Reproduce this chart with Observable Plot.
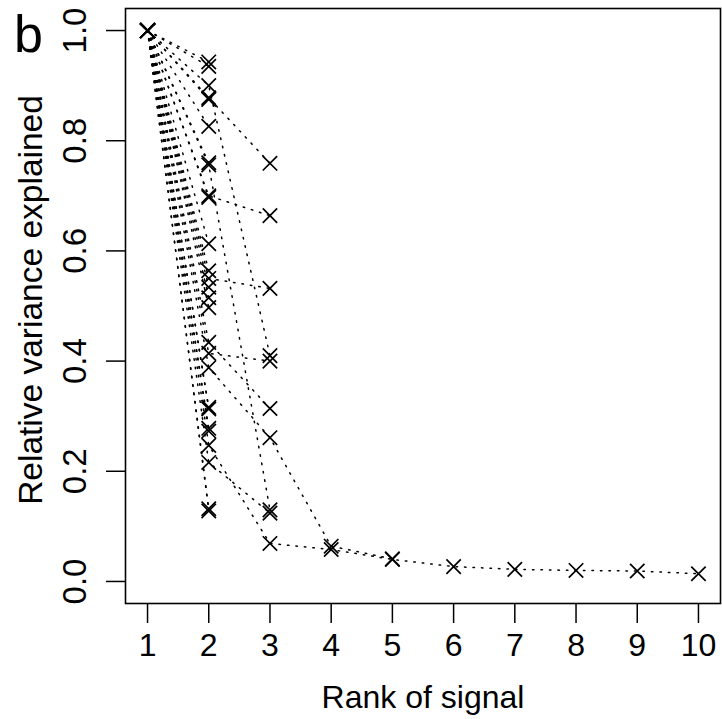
<!DOCTYPE html>
<html>
<head>
<meta charset="utf-8">
<script src="https://cdn.jsdelivr.net/npm/d3@7"></script>
<script src="https://cdn.jsdelivr.net/npm/@observablehq/plot@0.6"></script>
<style>
  html, body { margin: 0; padding: 0; background: white; }
  #chart { width: 722px; height: 719px; }
</style>
</head>
<body>
<div id="chart"></div>
<script>
// Tick labels
const xTicks = [1, 2, 3, 4, 5, 6, 7, 8, 9, 10];
const yTicks = [0, 0.2, 0.4, 0.6, 0.8, 1.0];

// Series that stop at rank 2 (value at rank 1 is 1.0, value at rank 2 listed)
const rank2OnlyValues = [0.943, 0.935, 0.875, 0.826, 0.760, 0.697, 0.613, 0.564,
  0.534, 0.515, 0.497, 0.316, 0.313, 0.278, 0.273, 0.132, 0.128];

// Series that continue beyond rank 2 (values at rank 1, 2, 3, ...)
const seriesA = [1.0, 0.900, 0.410];
const seriesB = [1.0, 0.878, 0.759];
const seriesC = [1.0, 0.756, 0.130];
const seriesD = [1.0, 0.700, 0.664];
const seriesE = [1.0, 0.550, 0.532];
const seriesF = [1.0, 0.434, 0.314];
const seriesG = [1.0, 0.414, 0.400];
const seriesH = [1.0, 0.388, 0.261, 0.064, 0.041];
const seriesI = [1.0, 0.247, 0.069, 0.058, 0.040, 0.027, 0.022, 0.020, 0.019, 0.014];
const seriesJ = [1.0, 0.216, 0.124];

const allSeries = [
  ...rank2OnlyValues.map(v => [1.0, v]),
  seriesA, seriesB, seriesC, seriesD, seriesE, seriesF, seriesG, seriesH, seriesI, seriesJ
];

const points = [];
allSeries.forEach((vals, s) => {
  vals.forEach((v, i) => points.push({series: s, rank: xTicks[i], value: v}));
});

const font = "'Liberation Sans', Arial, Helvetica, sans-serif";

const chart = Plot.plot({
  width: 722,
  height: 719,
  marginLeft: 125,
  marginRight: 2,
  marginTop: 8,
  marginBottom: 116,
  x: {domain: [0.64, 10.36]},
  y: {domain: [-0.04, 1.04]},
  style: {fontFamily: font, fontSize: "32px", color: "black", background: "white", overflow: "visible"},
  marks: [
    Plot.axisX({ticks: xTicks, tickSize: 20, tickPadding: 10, strokeWidth: 1.5, label: null, fontSize: 32, tickFormat: d => String(d)}),
    Plot.axisY({ticks: yTicks, tickSize: 19, tickPadding: 21, tickRotate: -90, strokeWidth: 1.5, label: null, fontSize: 33, tickFormat: d3.format(".1f")}),
    Plot.line(points, {x: "rank", y: "value", z: "series", stroke: "black", strokeWidth: 1.5, strokeDasharray: "1.5,7"}),
    Plot.dot(points, {x: "rank", y: "value", symbol: "times", r: 6.6, stroke: "black", strokeWidth: 1.7}),
    Plot.frame({stroke: "black", strokeWidth: 1.6}),
    Plot.text(["Rank of signal"], {frameAnchor: "bottom", dy: 94, lineAnchor: "middle", textAnchor: "middle", fontSize: 32, fill: "black"}),
    Plot.text(["Relative variance explained"], {frameAnchor: "left", dx: -94, dy: -6, rotate: -90, lineAnchor: "middle", textAnchor: "middle", fontSize: 33.5, fill: "black"}),
    Plot.text(["b"], {frameAnchor: "top-left", dx: -97, dy: 7, lineAnchor: "top", textAnchor: "middle", fontSize: 52, fill: "black"})
  ]
});

document.getElementById("chart").appendChild(chart);
</script>
</body>
</html>
